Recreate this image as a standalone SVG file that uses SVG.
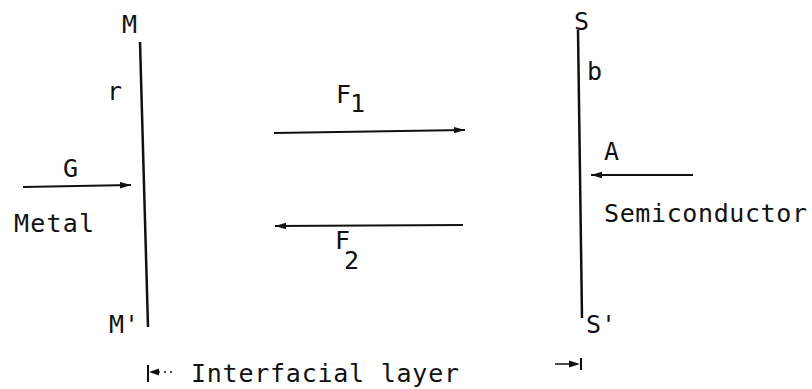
<svg xmlns="http://www.w3.org/2000/svg" width="812" height="389" viewBox="0 0 812 389">
<defs>
<style>
text{font-family:"DejaVu Sans Mono","Liberation Mono",monospace;font-size:25px;fill:#111}
.ln{stroke:#111;stroke-width:2.5;fill:none}
.ar{stroke:#111;stroke-width:2;fill:none;marker-end:url(#ah)}
</style>
<marker id="ah" markerUnits="userSpaceOnUse" markerWidth="12" markerHeight="8" refX="11" refY="4" orient="auto">
<path d="M0,0.8 L11,4 L0,7.2 Z" fill="#111"/>
</marker>
</defs>
<rect width="812" height="389" fill="#fff"/>
<g id="metal-surface">
<line class="ln" x1="140" y1="42" x2="148" y2="327"/>
<text x="122" y="33">M</text>
<text x="107" y="100">r</text>
<text x="109" y="333">M'</text>
</g>
<g id="metal">
<text x="14" y="232" textLength="80" lengthAdjust="spacing">Metal</text>
<text x="63" y="177">G</text>
</g>
<g id="semiconductor-surface">
<line class="ln" x1="578" y1="30" x2="582" y2="318"/>
<text x="574" y="30">S</text>
<text x="587" y="80">b</text>
<text x="586" y="333">S'</text>
</g>
<g id="semiconductor">
<text x="604" y="160">A</text>
<text x="604" y="222" textLength="203" lengthAdjust="spacing">Semiconductor</text>
</g>
<g id="flux-labels">
<text x="336" y="103">F<tspan dx="-1" dy="9">1</tspan></text>
<text x="335" y="249">F<tspan dx="-6" dy="20">2</tspan></text>
</g>
<g id="interfacial-layer">
<text x="191" y="382" textLength="268" lengthAdjust="spacing">Interfacial layer</text>
</g>
<g id="connectors">
<line class="ar" x1="23" y1="187" x2="131" y2="185"/>
<line class="ar" x1="274" y1="133" x2="465" y2="130"/>
<line class="ar" x1="463" y1="225" x2="275" y2="226"/>
<line class="ar" x1="693" y1="175" x2="591" y2="175"/>
<line stroke="#111" stroke-width="2" x1="148" y1="365" x2="148" y2="382"/>
<line stroke="#111" stroke-width="1.5" stroke-dasharray="2,4" x1="158" y1="372" x2="174" y2="372"/>
<path d="M149,372 L159,368.5 L159,375.5 Z" fill="#111"/>
<line stroke="#111" stroke-width="2" x1="581" y1="358" x2="581" y2="370"/>
<line stroke="#111" stroke-width="1.5" x1="555" y1="364" x2="571" y2="364"/>
<path d="M580,364 L569,360.5 L569,367.5 Z" fill="#111"/>
</g>
</svg>
